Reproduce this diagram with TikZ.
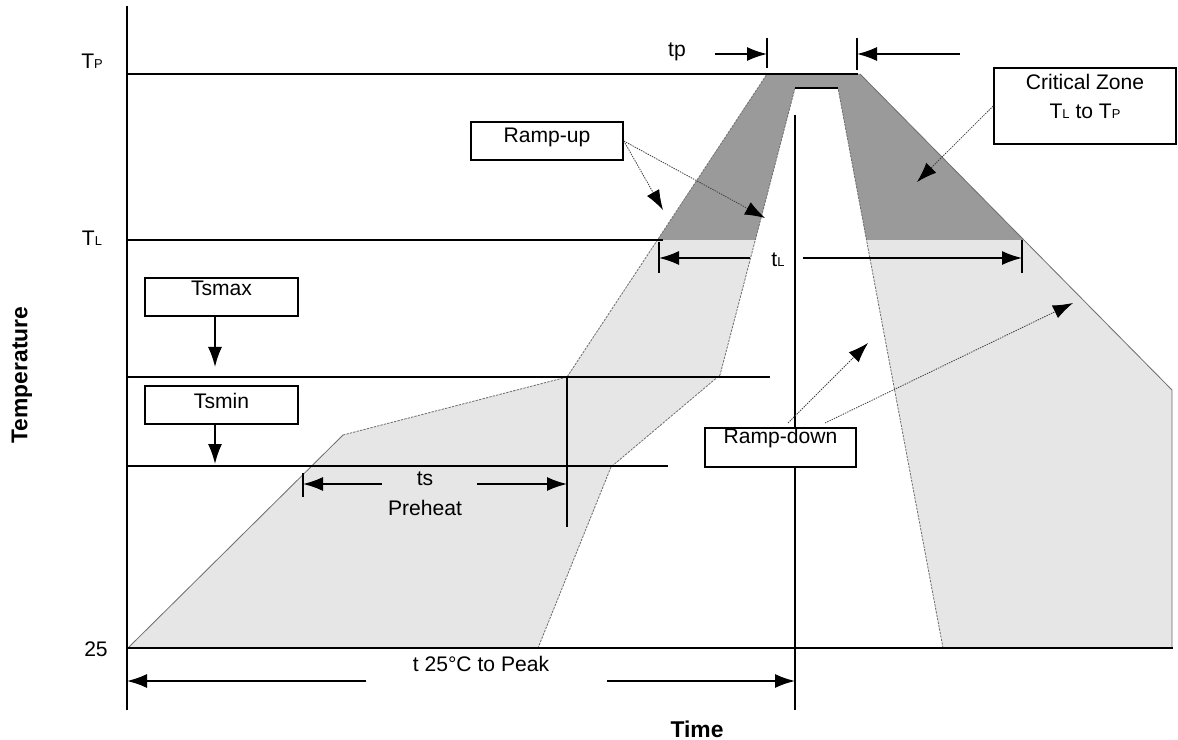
\documentclass[tikz,border=0pt]{standalone}
\usepackage{fontspec}
\setmainfont{Liberation Sans}
\usetikzlibrary{arrows.meta}
\newcommand\sbs[1]{{\fontsize{11}{13}\selectfont #1}}
\definecolor{bandlight}{RGB}{230,230,230}
\definecolor{banddark}{RGB}{154,154,154}
\definecolor{edgegray}{RGB}{110,110,110}
\begin{document}
\begin{tikzpicture}[x=0.03cm,y=-0.03cm,
  every node/.style={font=\fontsize{18}{24}\selectfont},
  blk/.style={line width=1.5pt, draw=black},
  arr/.style={line width=1.4pt, -{Latex[length=0.6cm,width=0.42cm]}},
  callout/.style={line width=0.7pt, draw=black!75, dash pattern=on 1.2pt off 0.9pt,
     -{Latex[length=0.6cm,width=0.42cm,color=black]}},
  box/.style={draw, line width=1.4pt, fill=white, inner sep=0pt, text height=0.45cm},
  lbl/.style={inner sep=0pt},
  boldlbl/.style={inner sep=0pt, font=\fontsize{19.5}{23}\selectfont\bfseries},
  solidedge/.style={draw=edgegray, line width=0.7pt},
  dashedge/.style={draw=edgegray, line width=0.7pt, dash pattern=on 2pt off 1pt}]
\useasboundingbox (0,0) rectangle (1178,740);
% band corner points
\coordinate (a1) at (128,648);
\coordinate (a2) at (343,435);
\coordinate (a3) at (567,377);
\coordinate (a4) at (767,74);
\coordinate (a5) at (860,74);
\coordinate (a6) at (1172,390);
\coordinate (a7) at (1172,648);
\coordinate (b1) at (943,648);
\coordinate (b2) at (838,88);
\coordinate (b3) at (795,88);
\coordinate (b4) at (720,375);
\coordinate (b5) at (611,467);
\coordinate (b6) at (538,648);
% light band
\path[fill=bandlight] (a1) -- (a2) -- (a3) -- (a4) -- (a5) -- (a6) -- (a7) -- (b1) -- (b2) -- (b3) -- (b4) -- (b5) -- (b6) -- cycle;
% dark critical zone
\begin{scope}
\clip (0,0) rectangle (1178,240);
\path[fill=banddark] (a1) -- (a2) -- (a3) -- (a4) -- (a5) -- (a6) -- (a7) -- (b1) -- (b2) -- (b3) -- (b4) -- (b5) -- (b6) -- cycle;
\end{scope}
% profile edges
\draw[solidedge] (a1) -- (a2);
\draw[dashedge] (a2) -- (a3) -- (a4);
\draw[solidedge] (a5) -- (a6) -- (a7);
\draw[dashedge] (b1) -- (b2);
\draw[dashedge] (b3) -- (b4) -- (b5) -- (b6);
% axes and level lines
\draw[blk] (127,6) -- (127,710);
\draw[blk] (127,74) -- (858,74);
\draw[blk] (127,240) -- (663,240);
\draw[blk] (127,377) -- (770,377);
\draw[blk] (127,466) -- (668,466);
\draw[blk] (127,648) -- (1173,648);
\draw[blk] (795,115) -- (795,710);
\draw[blk] (b3) -- (b2);
\draw[blk] (567,377) -- (567,527);
% ticks
\draw[blk] (767,38) -- (767,68);
\draw[blk] (857,38) -- (857,70);
\draw[blk] (659,242) -- (659,273);
\draw[blk] (1022,240) -- (1022,273);
\draw[blk] (303,473) -- (303,497);
% dimension arrows
\coordinate (tpa) at (715,54);  \coordinate (tpb) at (767,54);
\coordinate (tpc) at (960,54);  \coordinate (tpd) at (857,54);
\draw[arr] (tpa) -- (tpb);
\draw[arr] (tpc) -- (tpd);
\coordinate (tla) at (750,258); \coordinate (tlb) at (659,258);
\coordinate (tlc) at (803,258); \coordinate (tld) at (1022,258);
\draw[arr] (tla) -- (tlb);
\draw[arr] (tlc) -- (tld);
\coordinate (tsa) at (382,484); \coordinate (tsb) at (303,484);
\coordinate (tsc) at (477,484); \coordinate (tsd) at (567,484);
\draw[arr] (tsa) -- (tsb);
\draw[arr] (tsc) -- (tsd);
\coordinate (bta) at (366,681); \coordinate (btb) at (127,681);
\coordinate (btc) at (607,681); \coordinate (btd) at (795,681);
\draw[arr] (bta) -- (btb);
\draw[arr] (btc) -- (btd);
% labels
\node[lbl] (tplbl) at (677,52) {tp};
\node[lbl] (TP) at (92,61) {T\sbs{P}};
\node[lbl] (TL) at (92,238) {T\sbs{L}};
\node[lbl] (t25) at (96,649) {25};
\node[lbl] (tllbl) at (778,260) {t\sbs{L}};
\node[lbl] (tslbl) at (425,479) {ts};
\node[lbl] (prelbl) at (425,508) {Preheat};
\node[lbl] (peaklbl) at (481,664) {t 25°C to Peak};
\node[boldlbl] (timelbl) at (697,729) {Time};
\node[boldlbl, rotate=90] (templbl) at (22,375) {Temperature};
% boxes
\node[box, minimum width=4.56cm, minimum height=1.14cm, text depth=0.33cm] (rampup) at (547,141) {Ramp-up};
\node[box, minimum width=4.59cm, minimum height=1.14cm, text depth=0.51cm] (tsmax) at (221.5,297) {Tsmax};
\node[box, minimum width=4.59cm, minimum height=1.14cm, text depth=0.27cm] (tsmin) at (221.5,405) {Tsmin};
\node[box, minimum width=4.53cm, minimum height=1.17cm, text depth=0.72cm] (rampdown) at (780.5,447.5) {Ramp-down};
\node[box, minimum width=5.46cm, text height=0.66cm, text depth=1.62cm] (crit) at (1085,106)
  {\begin{tabular}[t]{@{}c@{}}Critical Zone\\T\sbs{L} to T\sbs{P}\end{tabular}};
% box arrows
\coordinate (tsmaxtip) at (215,367);
\coordinate (tsmintip) at (215,464);
\draw[arr] (tsmax.south -| tsmaxtip) -- (tsmaxtip);
\draw[arr] (tsmin.south -| tsmintip) -- (tsmintip);
% callouts
\coordinate (ru1) at (663,210);
\coordinate (ru2) at (765,218);
\draw[callout] (rampup.east) -- (ru1);
\draw[callout] (rampup.east) -- (ru2);
\coordinate (cz1) at (917,182);
\draw[callout] (crit.west) -- (cz1);
\coordinate (rds1) at (788,423);
\coordinate (rds2) at (825,423);
\coordinate (rd1) at (868,343);
\coordinate (rd2) at (1073,303);
\draw[callout] (rds1) -- (rd1);
\draw[callout] (rds2) -- (rd2);
\end{tikzpicture}
\end{document}
